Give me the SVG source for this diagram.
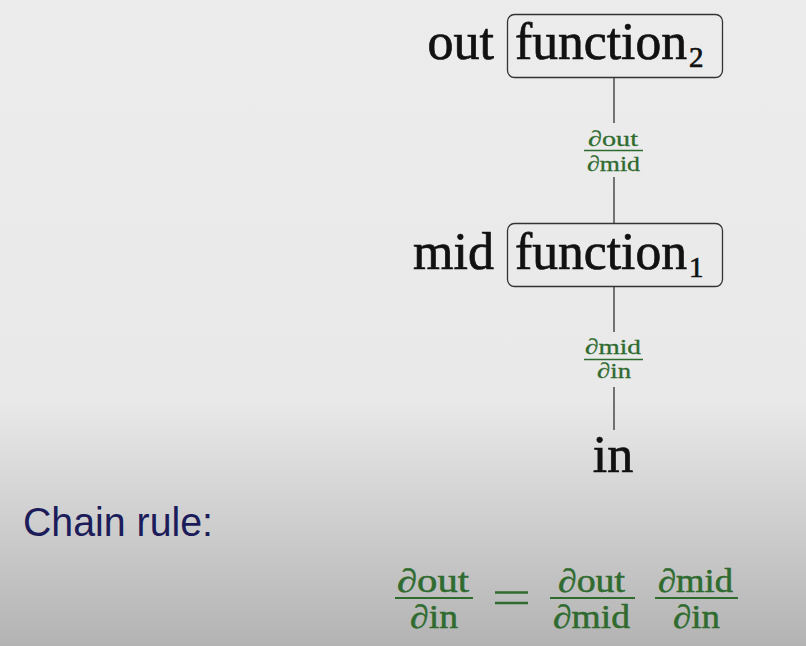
<svg xmlns="http://www.w3.org/2000/svg" width="806" height="646" viewBox="0 0 806 646">
<defs>
<linearGradient id="bg" x1="0" y1="0" x2="0" y2="1">
<stop offset="0" stop-color="#ececec"/>
<stop offset="0.62" stop-color="#e9e9e9"/>
<stop offset="1" stop-color="#b3b3b3"/>
</linearGradient>
<style>
.serif{font-family:"Liberation Serif","DejaVu Serif",serif;fill:#111;stroke:#111;stroke-width:0.7}
.big{font-size:52px}
.sub{font-size:29px}
.g{font-family:"Liberation Serif","DejaVu Serif",serif;fill:#2f6b2f;stroke:#2f6b2f}
.sm{font-size:22px;stroke-width:0.3}
.eq{font-size:33px;stroke-width:0.5}
.box{fill:none;stroke:#333;stroke-width:1.3}
.edge{stroke:#222;stroke-width:1.2;fill:none}
.bar{stroke:#2f6b2f;fill:none}
</style>
</defs>
<rect width="806" height="646" fill="url(#bg)"/>

<g id="connectors">
<line class="edge" x1="614" y1="77" x2="614" y2="123"/>
<line class="edge" x1="614" y1="177" x2="614" y2="223"/>
<line class="edge" x1="614" y1="286" x2="614" y2="332"/>
<line class="edge" x1="614" y1="387" x2="614" y2="430"/>
<g id="label-dout-dmid">
<text class="g sm" x="588" y="146" textLength="50" lengthAdjust="spacingAndGlyphs">∂out</text>
<line class="bar" stroke-width="1.6" x1="584" y1="150.5" x2="643" y2="150.5"/>
<text class="g sm" x="587" y="171" textLength="53" lengthAdjust="spacingAndGlyphs">∂mid</text>
</g>
<g id="label-dmid-din">
<text class="g sm" x="585" y="354" textLength="56" lengthAdjust="spacingAndGlyphs">∂mid</text>
<line class="bar" stroke-width="1.6" x1="584" y1="359.5" x2="643" y2="359.5"/>
<text class="g sm" x="597" y="378" textLength="34" lengthAdjust="spacingAndGlyphs">∂in</text>
</g>
</g>

<g id="node-function2">
<rect class="box" x="507.5" y="14.5" width="215" height="63" rx="7"/>
<text class="serif big" x="494" y="59" text-anchor="end">out</text>
<text class="serif big" x="515" y="59" textLength="172" lengthAdjust="spacingAndGlyphs">function</text>
<text class="serif sub" x="689" y="67">2</text>
</g>

<g id="node-function1">
<rect class="box" x="507.5" y="223.5" width="215" height="63" rx="7"/>
<text class="serif big" x="494" y="269" text-anchor="end">mid</text>
<text class="serif big" x="515" y="269" textLength="172" lengthAdjust="spacingAndGlyphs">function</text>
<text class="serif sub" x="689" y="277">1</text>
</g>

<g id="node-in">
<text class="serif big" x="613" y="472" text-anchor="middle">in</text>
</g>

<text x="23" y="536" font-family="'Liberation Sans',Arial,sans-serif" font-size="40" fill="#1c1c5a" textLength="190" lengthAdjust="spacingAndGlyphs">Chain rule:</text>

<g id="equation">
<text class="g eq" x="397" y="592" textLength="72" lengthAdjust="spacingAndGlyphs">∂out</text>
<line class="bar" stroke-width="2.2" x1="395" y1="598" x2="473" y2="598"/>
<text class="g eq" x="410" y="628" textLength="48" lengthAdjust="spacingAndGlyphs">∂in</text>
<line class="bar" stroke-width="2.4" x1="495" y1="592.5" x2="528" y2="592.5"/>
<line class="bar" stroke-width="2.4" x1="495" y1="603" x2="528" y2="603"/>
<text class="g eq" x="558" y="592" textLength="67" lengthAdjust="spacingAndGlyphs">∂out</text>
<line class="bar" stroke-width="2.2" x1="550" y1="598" x2="635" y2="598"/>
<text class="g eq" x="553" y="628" textLength="77" lengthAdjust="spacingAndGlyphs">∂mid</text>
<text class="g eq" x="658" y="592" textLength="75" lengthAdjust="spacingAndGlyphs">∂mid</text>
<line class="bar" stroke-width="2.2" x1="655" y1="598" x2="738" y2="598"/>
<text class="g eq" x="673" y="628" textLength="47" lengthAdjust="spacingAndGlyphs">∂in</text>
</g>
</svg>
